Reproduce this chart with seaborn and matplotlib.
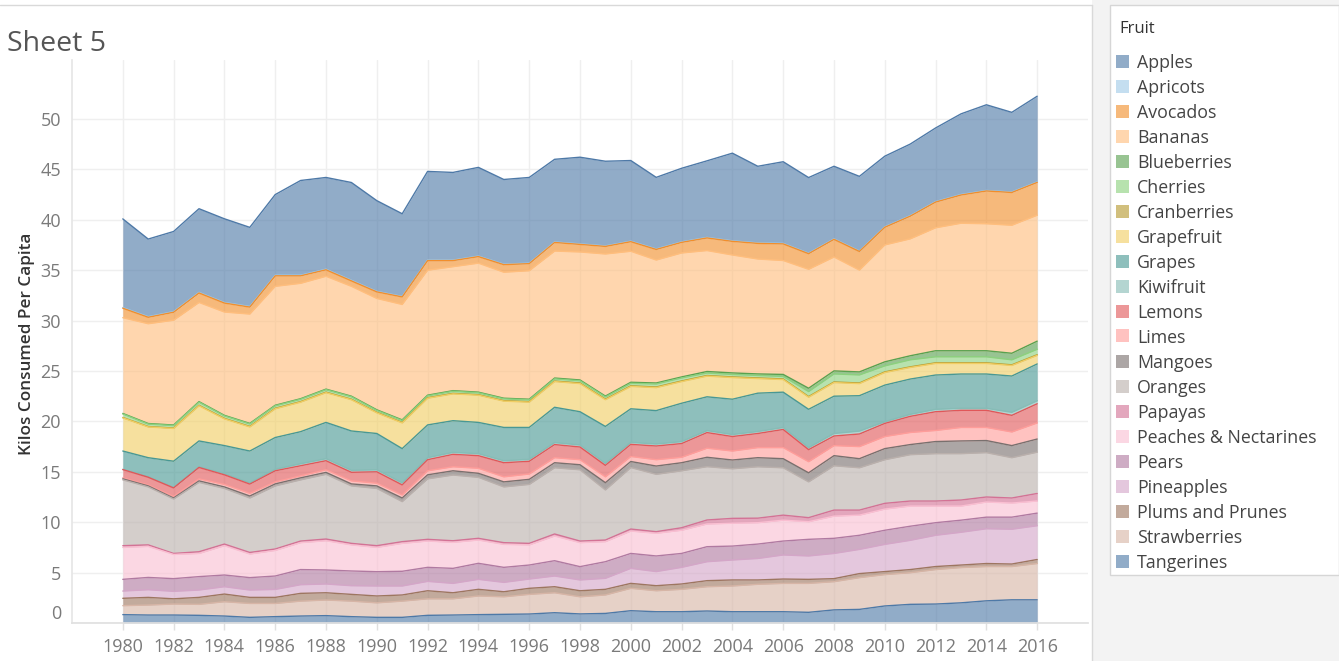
import numpy as np
import pandas as pd
import matplotlib
matplotlib.use("Agg")
import matplotlib.pyplot as plt
import seaborn as sns
from matplotlib.patches import Rectangle
from matplotlib.lines import Line2D

years = list(range(1980, 2017))

apples = [8.80,7.70,7.95,8.30,8.30,7.85,8.00,9.40,9.10,9.70,
          9.00,8.20,8.80,8.70,8.80,8.40,8.50,8.20,8.60,8.40,
          8.00,7.10,7.30,7.60,8.70,7.60,8.10,7.50,7.20,7.40,
          7.00,7.10,7.30,8.00,8.50,7.90,8.50]
apricots = [.06,.06,.06,.06,.06,.06,.06,.06,.06,.06,
            .05,.05,.05,.05,.05,.05,.05,.05,.05,.05,
            .05,.05,.05,.05,.05,.05,.05,.05,.05,.05,
            .05,.05,.05,.05,.05,.05,.05]
avocados = [.94,.64,.79,.94,.89,.69,1.04,.74,.64,.54,
            .65,.75,.95,.60,.65,.75,.70,.85,.75,.75,
            .95,1.05,1.05,1.25,1.35,1.55,1.65,1.55,1.75,1.85,
            1.75,2.25,2.55,2.80,3.25,3.25,3.25]
bananas = [9.50,9.90,10.40,9.84,10.25,10.85,11.80,11.45,11.20,10.90,
           11.05,11.45,12.40,12.30,12.80,12.50,12.75,12.60,12.70,14.10,
           13.00,12.20,12.30,12.00,11.70,11.40,11.30,11.80,11.30,10.10,
           11.60,11.60,12.20,12.65,12.60,12.70,12.50]
blueberries = [.05,.05,.05,.05,.05,.05,.05,.05,.05,.05,
               .06,.06,.06,.06,.06,.06,.06,.08,.08,.08,
               .10,.10,.10,.15,.15,.15,.20,.33,.30,.30,
               .40,.40,.60,.60,.60,.65,.80]
cherries = [.35,.25,.25,.31,.25,.25,.25,.24,.25,.25,
            .19,.19,.19,.21,.19,.18,.18,.22,.22,.22,
            .25,.30,.30,.25,.25,.25,.25,.50,.80,.80,
            .60,.70,.60,.60,.60,.50,.55]
cranberries = [.04,.04,.04,.05,.05,.05,.05,.05,.05,.05,
               .05,.05,.05,.05,.05,.05,.05,.05,.06,.06,
               .06,.06,.06,.06,.06,.06,.06,.06,.06,.06,
               .06,.06,.06,.06,.06,.06,.06]
grapefruit = [3.29,3.05,3.25,3.49,2.65,2.39,2.85,2.93,2.95,3.10,
              2.05,2.55,2.65,2.66,2.70,2.61,2.51,2.55,2.79,2.65,
              2.22,2.28,2.15,2.05,2.15,1.45,1.25,1.20,1.35,1.20,
              1.25,1.15,1.15,1.05,1.05,1.05,0.85]
grapes = [1.81,1.90,2.60,2.56,2.80,3.16,3.15,3.18,3.60,3.90,
          3.60,3.40,3.25,3.14,3.10,3.30,3.16,3.50,3.30,3.66,
          3.33,3.31,3.80,3.35,3.50,3.80,3.50,3.80,3.70,3.51,
          3.63,3.50,3.40,3.40,3.40,3.60,3.65]
kiwifruit = [.03,.04,.05,.07,.10,.12,.15,.20,.20,.20,
             .20,.20,.20,.20,.20,.20,.20,.20,.20,.20,
             .20,.20,.20,.20,.20,.20,.20,.20,.25,.29,
             .17,.20,.24,.20,.20,.30,.30]
lemons = [.82,.76,.85,1.13,.95,.92,1.10,1.00,.90,.85,
          1.13,1.00,1.10,1.23,1.25,1.40,1.26,1.30,1.26,1.14,
          1.20,1.36,1.36,1.55,1.44,1.40,1.80,1.20,.95,1.25,
          1.30,1.60,1.86,1.70,1.70,1.65,1.90]
limes = [.10,.10,.15,.20,.25,.26,.20,.20,.26,.30,
         .27,.30,.40,.40,.50,.50,.53,.50,.50,.58,
         .50,.63,.54,.90,.89,1.00,1.10,1.10,1.00,1.20,
         1.20,1.20,1.10,1.34,1.30,1.35,1.60]
mangoes = [.10,.10,.10,.15,.15,.20,.20,.20,.19,.20,
           .25,.36,.40,.42,.40,.50,.50,.50,.50,.72,
           .60,.82,.80,.93,.87,.90,.90,.90,1.00,.90,
           1.10,1.00,1.20,1.26,1.20,1.20,1.30]
oranges = [6.53,5.75,5.40,6.88,5.52,5.40,6.26,6.07,6.42,5.70,
           5.68,3.97,6.00,6.52,6.05,5.53,5.85,6.57,7.07,4.97,
           6.10,5.69,5.65,5.29,4.92,5.10,4.70,3.55,4.40,4.20,
           4.33,4.60,4.70,4.60,4.40,4.00,4.10]
papayas = [.17,.15,.10,.17,.16,.16,.14,.16,.17,.15,
           .17,.17,.17,.16,.17,.17,.15,.20,.16,.16,
           .20,.16,.25,.40,.48,.45,.50,.40,.60,.50,
           .57,.50,.50,.60,.50,.50,.75]
peaches = [3.17,3.08,2.40,2.30,2.91,2.34,2.54,2.67,2.90,2.59,
           2.41,2.77,2.61,2.58,2.31,2.28,2.00,2.45,2.38,1.99,
           2.22,2.25,2.30,2.25,2.27,2.12,2.07,1.75,2.20,2.00,
           2.10,2.00,1.65,1.40,1.50,1.40,1.20]
pears = [1.16,1.22,1.26,1.33,1.16,1.23,1.33,1.50,1.39,1.46,
         1.42,1.46,1.39,1.49,1.59,1.49,1.39,1.52,1.32,1.65,
         1.48,1.55,1.38,1.49,1.38,1.43,1.38,1.65,1.50,1.40,
         1.40,1.40,1.25,1.20,1.15,1.20,1.25]
pineapples = [.72,.76,.74,.73,.73,.73,.79,.86,.87,.86,
              .99,.89,.93,.93,.99,.93,.92,1.06,1.07,1.09,
              1.49,1.40,1.65,1.88,1.98,2.13,2.39,2.32,2.50,2.40,
              2.70,2.90,3.10,3.25,3.45,3.45,3.35]
plums = [.73,.76,.52,.69,.76,.60,.60,.77,.72,.67,
         .68,.61,.80,.60,.66,.50,.60,.60,.60,.56,
         .49,.50,.53,.60,.60,.43,.43,.40,.30,.40,
         .30,.31,.30,.25,.30,.25,.40]
strawberries = [.89,.99,1.09,1.09,1.42,1.38,1.31,1.48,1.55,1.54,
                1.44,1.61,1.64,1.61,1.85,1.74,1.95,1.98,1.70,1.83,
                2.22,2.08,2.22,2.41,2.55,2.72,2.81,2.87,2.80,3.15,
                3.11,3.14,3.42,3.50,3.40,3.30,3.60]
tangerines = [.83,.79,.79,.76,.69,.56,.63,.69,.73,.63,
              .56,.56,.76,.79,.83,.86,.89,1.02,.90,.95,
              1.22,1.12,1.12,1.19,1.12,1.12,1.12,1.06,1.30,1.35,
              1.69,1.85,1.88,2.00,2.20,2.30,2.30]

fruits = ["Apples", "Apricots", "Avocados", "Bananas", "Blueberries", "Cherries",
          "Cranberries", "Grapefruit", "Grapes", "Kiwifruit", "Lemons", "Limes",
          "Mangoes", "Oranges", "Papayas", "Peaches & Nectarines", "Pears",
          "Pineapples", "Plums and Prunes", "Strawberries", "Tangerines"]
series = [apples, apricots, avocados, bananas, blueberries, cherries, cranberries,
          grapefruit, grapes, kiwifruit, lemons, limes, mangoes, oranges, papayas,
          peaches, pears, pineapples, plums, strawberries, tangerines]
palette = ["#4E79A7", "#A0CBE8", "#F28E2B", "#FFBE7D", "#59A14F", "#8CD17D",
           "#B6992D", "#F1CE63", "#499894", "#86BCB6", "#E15759", "#FF9D9A",
           "#79706E", "#BAB0AC", "#D37295", "#FABFD2", "#B07AA1", "#D4A6C8",
           "#9D7660", "#D7B5A6", "#4E79A7"]
ALPHA = 0.62

sns.set_theme(style="white")
plt.rcParams["font.family"] = ["Open Sans", "DejaVu Sans"]

W, H = 1339, 661
fig = plt.figure(figsize=(W / 100, H / 100), dpi=100)
fig.patch.set_facecolor("white")

# right-hand panel and borders
fig.patches.append(Rectangle((1092 / W, 0), 1 - 1092 / W, 1, transform=fig.transFigure,
                             facecolor="#f3f3f3", edgecolor="none", zorder=0))
fig.patches.append(Rectangle((1110 / W, 1 - 575 / H), (W - 1110) / W, (575 - 5) / H,
                             transform=fig.transFigure, facecolor="white",
                             edgecolor="#d6d6d6", linewidth=1, zorder=1))
fig.lines.append(Line2D([0, 1092 / W], [1 - 5 / H, 1 - 5 / H], transform=fig.transFigure,
                        color="#d9d9d9", linewidth=1))
fig.lines.append(Line2D([1092 / W, 1092 / W], [0, 1 - 5 / H], transform=fig.transFigure,
                        color="#d9d9d9", linewidth=1))

ax = fig.add_axes([72 / W, 1 - 623 / H, (1088 - 72) / W, (623 - 60) / H])

order = list(range(len(fruits)))[::-1]  # Tangerines at the bottom
vals = np.array([series[i] for i in order])
ax.stackplot(years, vals, colors=[palette[i] for i in order], alpha=ALPHA,
             linewidth=0, zorder=2)

cum = np.cumsum(vals, axis=0)
rows = []
for k, i in enumerate(order):
    for j, y in enumerate(years):
        rows.append({"year": y, "fruit": fruits[i], "top": cum[k, j]})
df = pd.DataFrame(rows)
sns.lineplot(data=df, x="year", y="top", hue="fruit", hue_order=fruits,
             palette=dict(zip(fruits, palette)), estimator=None, legend=False,
             linewidth=1.0, ax=ax, zorder=3)

ax.set_xlim(1978, 2018)
ax.set_ylim(0, (623 - 60) / 10.08)
ax.set_xticks(list(range(1980, 2017, 2)))
ax.set_yticks(list(range(0, 51, 5)))
ax.grid(True, color="#efefef", linewidth=1, zorder=0)
ax.set_axisbelow(True)
for s in ["top", "right"]:
    ax.spines[s].set_visible(False)
ax.spines["left"].set_color("#e6e6e6")
ax.spines["bottom"].set_color("#e0e0e0")
ax.tick_params(axis="y", length=0, pad=8, labelsize=13, labelcolor="#7a7a7a")
ax.tick_params(axis="x", length=5, width=1, color="#e0e0e0", pad=6,
               labelsize=13, labelcolor="#7a7a7a", bottom=True)
ax.set_xlabel("")
ax.set_ylabel("")
ax.yaxis.get_major_ticks()[0].label1.set_verticalalignment("bottom")

fig.text(27 / W, 1 - 344 / H, "Kilos Consumed Per Capita", rotation=90,
         ha="center", va="center", fontsize=12.3, fontweight="semibold", color="#333333")
fig.text(7 / W, 1 - 44 / H, "Sheet 5", ha="left", va="center", fontsize=20.5,
         color="#555555")

# legend
fig.text(1119 / W, 1 - 29 / H, "Fruit", ha="left", va="center", fontsize=12, color="#333333")
for i, (f, c) in enumerate(zip(fruits, palette)):
    yc = 61 + 25 * i
    fig.patches.append(Rectangle((1116 / W, 1 - (yc + 6.5) / H), 13 / W, 13 / H,
                                 transform=fig.transFigure, facecolor=c, alpha=ALPHA,
                                 edgecolor="none", zorder=3))
    fig.text(1137 / W, 1 - (yc + 2) / H, f, ha="left", va="center", fontsize=12.8,
             color="#444444")

fig.savefig("out.png", dpi=100)
